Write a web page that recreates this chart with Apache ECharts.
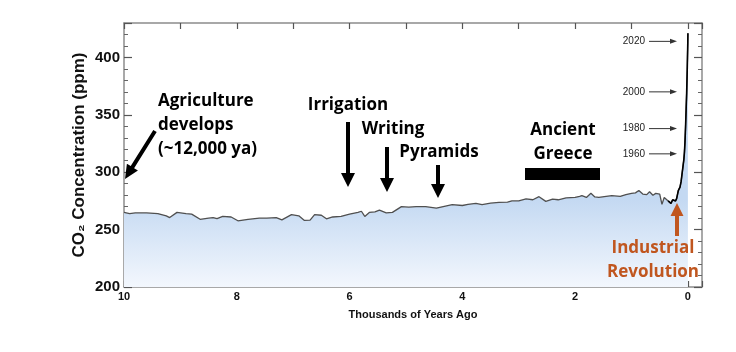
<!DOCTYPE html>
<html>
<head>
<meta charset="utf-8">
<script src="https://cdn.jsdelivr.net/npm/echarts@6/dist/echarts.min.js"></script>
<style>html,body{margin:0;padding:0;background:#fff}#chart{width:736px;height:352px}</style>
</head>
<body>
<div id="chart"></div>
<script>
// thousands of years ago / CO2 ppm (ice core part)
var ages = [10, 9.9, 9.8, 9.6, 9.4, 9.25, 9.19, 9.06, 8.9, 8.8, 8.65, 8.5, 8.42, 8.35, 8.25, 8.1, 7.98, 7.8, 7.6, 7.47,
    7.3, 7.2, 7.03, 6.9, 6.8, 6.7, 6.62, 6.5, 6.41, 6.3, 6.15, 6.0, 5.85, 5.79, 5.73, 5.65, 5.55, 5.47, 5.35, 5.24,
    5.08, 4.95, 4.82, 4.65, 4.46, 4.3, 4.18, 4.0, 3.9, 3.76, 3.65, 3.5, 3.35, 3.2, 3.12, 3.0, 2.87, 2.75, 2.64, 2.52,
    2.4, 2.3, 2.16, 2.0, 1.92, 1.88, 1.8, 1.72, 1.65, 1.58, 1.45, 1.35, 1.2, 1.1, 1.0, 0.93, 0.87, 0.8, 0.73, 0.68,
    0.62, 0.57, 0.5, 0.46, 0.42, 0.39, 0.35];
var ppm = [265, 264, 264.5, 264.5, 264, 262, 260.5, 265, 264, 263.5, 259, 260, 260.5, 259.5, 261.5, 261, 257.7, 259, 260, 260,
    260.5, 258.5, 263, 262, 258, 258.3, 263, 262.5, 259.4, 261, 261.5, 263.5, 265, 266, 261.5, 265, 265.5, 267, 264.6, 265,
    270, 269.5, 270, 270, 268.8, 270.5, 271.7, 271, 272, 272.8, 271.7, 273, 273.7, 274, 275, 275, 276.7, 276, 278.7, 274.6,
    276.5, 276, 277.6, 278, 279, 279.6, 278, 281.6, 278.5, 278, 279, 279.6, 279, 280.5, 281.6, 282, 284, 281, 280.5, 283,
    280, 281.6, 281, 272, 278, 276.7, 275];
// industrial era
var modernAges = [0.35, 0.3, 0.27, 0.25, 0.22, 0.2, 0.17, 0.14, 0.12, 0.1, 0.072, 0.062, 0.052, 0.042, 0.032, 0.022, 0.012, 0.002, 0];
var modernPpm = [275, 272.8, 276, 276.7, 275, 277, 284, 287, 292, 300, 311, 317, 326, 339, 354, 369, 389, 413, 421];

var yearLabels = ['2020', '2000', '1980', '1960'];
var yearPpm = [414, 370, 338, 316];

var xTicks = [10, 8, 6, 4, 2, 0];

function pairs(a, v) {
    var res = [];
    for (var i = 0; i < a.length; i++) res.push([-a[i], v[i]]);
    return res;
}
var allData = pairs(ages, ppm).concat(pairs(modernAges.slice(1), modernPpm.slice(1)));
var modernData = pairs(modernAges, modernPpm);

var chart = echarts.init(document.getElementById('chart'));
var axisCol = '#8c8c8c';
var font = '"Liberation Sans", Arial, sans-serif';
var annFont = '"Open Sans", sans-serif';

function xAxisCfg(pos, showLabel) {
    return {
        type: 'value', position: pos, min: -10, max: 0.25, interval: 1,
        axisLine: {show: true, onZero: false, lineStyle: {color: axisCol, width: 1.5}},
        axisTick: {show: true, inside: true, length: 6, lineStyle: {color: '#555', width: 1.2}},
        splitLine: {show: false},
        axisLabel: {
            show: showLabel, margin: 4, color: '#111', fontSize: 11, fontWeight: 'bold', fontFamily: font,
            formatter: function (v) {
                var a = Math.round(-v);
                return (v <= 0 && xTicks.indexOf(a) >= 0 && Math.abs(a + v) < 1e-6) ? String(a) : '';
            }
        },
        name: showLabel ? 'Thousands of Years Ago' : '', nameLocation: 'middle', nameGap: 22,
        nameTextStyle: {color: '#111', fontSize: 11, fontWeight: 'bold', fontFamily: font}
    };
}
function yAxisCfg(pos, showLabel) {
    return {
        type: 'value', position: pos, min: 200, max: 430, interval: 50,
        axisLine: {show: true, onZero: false, lineStyle: {color: axisCol, width: 1.5}},
        axisTick: {show: true, inside: true, length: 8, lineStyle: {color: '#555', width: 1.2}},
        minorTick: {show: true, splitNumber: 5, length: 4, lineStyle: {color: '#666', width: 1}},
        splitLine: {show: false},
        axisLabel: {
            show: showLabel, margin: 4, color: '#111', fontSize: 15, fontWeight: 'bold', fontFamily: font,
            formatter: function (v) { return v <= 400 ? String(v) : ''; }
        },
        name: showLabel ? 'CO₂ Concentration (ppm)' : '', nameLocation: 'middle', nameGap: 36, nameRotate: 90,
        nameMoveOverlap: false,
        nameTextStyle: {color: '#111', fontSize: 17, fontWeight: 'bold', fontFamily: font}
    };
}

var option = {
    animation: false,
    grid: {left: 124, right: 34, top: 23, bottom: 65},
    xAxis: [xAxisCfg('bottom', true), xAxisCfg('top', false)],
    yAxis: [yAxisCfg('left', true), yAxisCfg('right', false)],
    series: [
        {
            type: 'line', data: allData, showSymbol: false, symbol: 'none',
            lineStyle: {color: '#505050', width: 1.3},
            areaStyle: {
                opacity: 1,
                color: new echarts.graphic.LinearGradient(0, 200, 0, 287, [
                    {offset: 0, color: '#c4d9f2'},
                    {offset: 1, color: '#f3f7fd'}
                ], true)
            },
            z: 2
        },
        {
            type: 'line', data: modernData, showSymbol: false, symbol: 'none',
            lineStyle: {color: '#000', width: 1.6}, z: 3
        }
    ]
};
chart.setOption(option);

function arrowPts(x1, y1, x2, y2, sw, hw, hl) {
    var dx = x2 - x1, dy = y2 - y1, L = Math.sqrt(dx * dx + dy * dy);
    var ux = dx / L, uy = dy / L, px = -uy, py = ux;
    var bx = x2 - ux * hl, by = y2 - uy * hl;
    return [[x1 + px * sw / 2, y1 + py * sw / 2], [bx + px * sw / 2, by + py * sw / 2], [bx + px * hw / 2, by + py * hw / 2],
        [x2, y2], [bx - px * hw / 2, by - py * hw / 2], [bx - px * sw / 2, by - py * sw / 2], [x1 - px * sw / 2, y1 - py * sw / 2]];
}
function arrow(x1, y1, x2, y2, sw, hw, hl, col) {
    return {type: 'polygon', silent: true, z: 10, shape: {points: arrowPts(x1, y1, x2, y2, sw, hw, hl)}, style: {fill: col}};
}
function txt(s, x, y, size, col, align, weight, fam) {
    return {type: 'text', silent: true, z: 10, style: {
        text: s, x: x, y: y, align: align || 'center', verticalAlign: 'middle',
        font: (weight || 'bold') + ' ' + size + 'px ' + (fam || annFont), fill: col || '#000'}};
}

var g = [
    txt('Agriculture', 158, 101, 17, '#000', 'left'),
    txt('develops', 158, 125, 17, '#000', 'left'),
    txt('(~12,000 ya)', 158, 149, 17, '#000', 'left'),
    arrow(155, 131, 125, 179, 4, 13, 14, '#000'),
    txt('Irrigation', 348, 105, 17),
    arrow(348, 122, 348, 187, 4, 14, 14, '#000'),
    txt('Writing', 393, 129, 17),
    arrow(387, 147, 387, 192, 4, 14, 14, '#000'),
    txt('Pyramids', 439, 152, 17),
    arrow(438, 165, 438, 198, 4, 14, 14, '#000'),
    txt('Ancient', 563, 130, 17),
    txt('Greece', 563, 154, 17),
    {type: 'rect', silent: true, z: 10, shape: {x: 525, y: 168, width: 75, height: 12}, style: {fill: '#000'}},
    txt('Industrial', 653, 248, 17, '#c0561f'),
    txt('Revolution', 653, 272, 17, '#c0561f'),
    arrow(677, 236, 677, 203, 4, 13, 13, '#c0561f')
];
for (var i = 0; i < yearLabels.length; i++) {
    var yy = chart.convertToPixel({yAxisIndex: 0}, yearPpm[i]);
    g.push(txt(yearLabels[i], 645, yy, 10, '#222', 'right', 'normal', font));
    g.push({type: 'line', silent: true, z: 10, shape: {x1: 649, y1: yy, x2: 672, y2: yy}, style: {stroke: '#333', lineWidth: 1}});
    g.push({type: 'polygon', silent: true, z: 10, shape: {points: [[670, yy - 2.5], [677, yy], [670, yy + 2.5]]}, style: {fill: '#333'}});
}
chart.setOption({graphic: g});
</script>
</body>
</html>
